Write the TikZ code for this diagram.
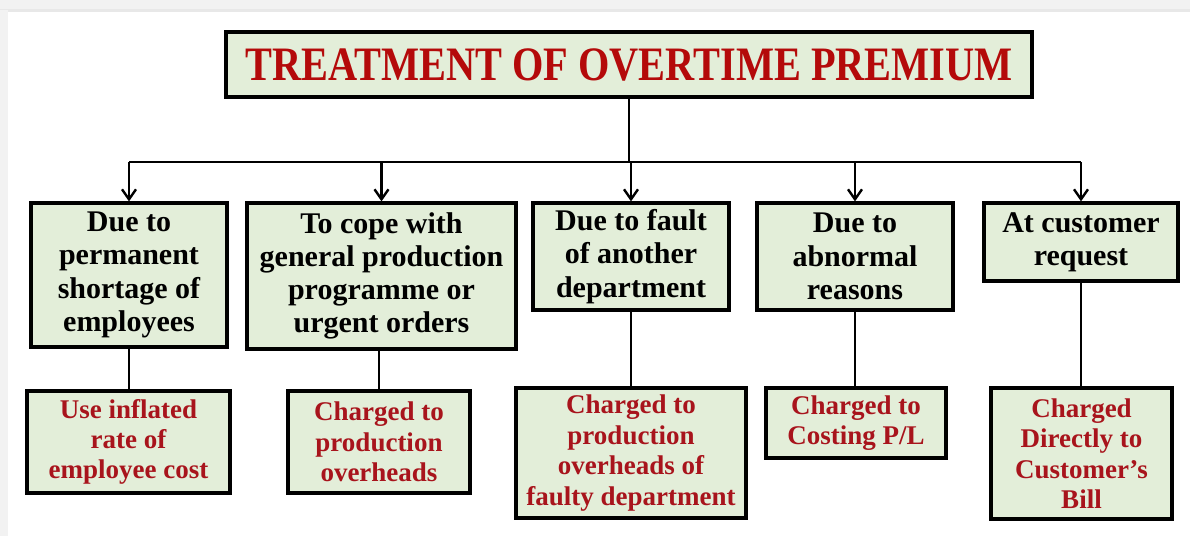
\documentclass[tikz,border=0pt]{standalone}
\usepackage{fontspec}
\setmainfont{Liberation Serif}
\newfontfamily\titlefont[FakeStretch=0.84]{Liberation Serif}
\usetikzlibrary{arrows.meta}
\definecolor{boxfill}{HTML}{E3EED9}
\definecolor{titlered}{HTML}{B40A0A}
\definecolor{lowred}{HTML}{A8141C}
\begin{document}
\begin{tikzpicture}[x=0.5pt,y=-0.5pt,
  box/.style={draw=black,line width=1.6pt,fill=boxfill,inner sep=0pt,align=center,font=\bfseries\fontsize{15}{16.6}\selectfont},
  outbox/.style={box,text=lowred,font=\bfseries\fontsize{13.5}{15.2}\selectfont},
  conn/.style={line width=1.4pt},
  arr/.style={conn,-{Straight Barb[length=5pt,width=7pt,line width=1.2pt]}}]
\useasboundingbox (0,0) rectangle (1190,536);
\fill[white] (0,0) rectangle (1190,536);
\fill[black!5] (0,0) rectangle (1190,10);
\fill[black!9] (0,9) rectangle (1190,12);
\fill[black!5] (0,10) rectangle (8,536);
% title
\node[box,minimum width=403pt,minimum height=32.5pt,text=titlered,font=\titlefont\bfseries\fontsize{24}{28}\selectfont] (title) at (629,64.5) {TREATMENT OF OVERTIME PREMIUM};
% causes
\node[box,minimum width=98pt,minimum height=72pt] (c1) at (129,275) {Due to\\permanent\\shortage of\\employees};
\node[box,minimum width=134.5pt,minimum height=73pt] (c2) at (381.5,276) {To cope with\\general production\\programme or\\urgent orders};
\node[box,minimum width=98pt,minimum height=53.5pt] (c3) at (631,256.5) {Due to fault\\of another\\department};
\node[box,minimum width=98pt,minimum height=53.5pt] (c4) at (855,256.5) {Due to\\abnormal\\reasons};
\node[box,minimum width=97pt,minimum height=39pt] (c5) at (1081,242) {At customer\\request};
% treatments
\node[outbox,minimum width=101.5pt,minimum height=51pt] (t1) at (128.5,442) {Use inflated\\rate of\\employee cost};
\node[outbox,minimum width=91pt,minimum height=51pt] (t2) at (379,442) {Charged to\\production\\overheads};
\node[outbox,minimum width=115pt,minimum height=65pt] (t3) at (631,453) {Charged to\\production\\overheads of\\faulty department};
\node[outbox,minimum width=90pt,minimum height=35pt] (t4) at (856,423) {Charged to\\Costing P/L};
\node[outbox,minimum width=90.5pt,minimum height=65.5pt] (t5) at (1081.5,453.5) {Charged\\Directly to\\Customer's\\Bill};
% connectors
\coordinate (bus) at (0,162);
\draw[conn] (title.south) -- (title.south |- bus);
\draw[conn] (c1.north |- bus) -- (c5.north |- bus);
\foreach \n in {c1,c2,c3,c4,c5} \draw[arr] (\n.north |- bus) -- (\n.north);
\draw[conn] (c1.south) -- (c1.south |- t1.north);
\draw[conn] (t2.north |- c2.south) -- (t2.north);
\draw[conn] (c3.south) -- (c3.south |- t3.north);
\draw[conn] (c4.south) -- (c4.south |- t4.north);
\draw[conn] (c5.south) -- (c5.south |- t5.north);
\end{tikzpicture}
\end{document}
